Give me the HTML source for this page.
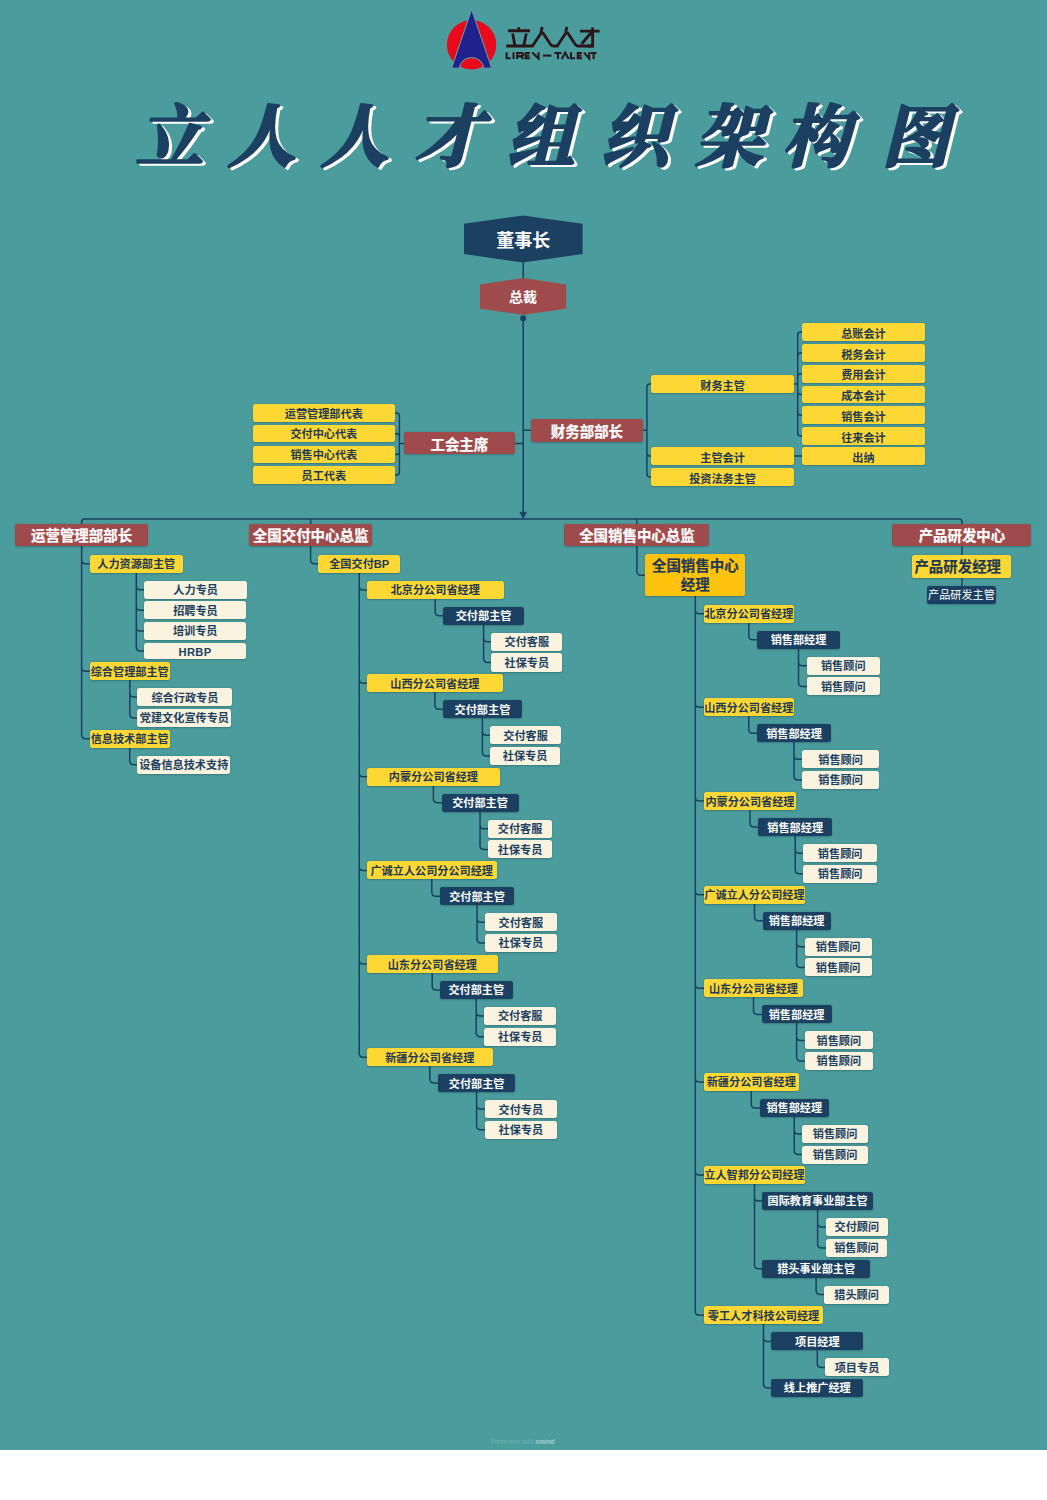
<!DOCTYPE html>
<html lang="zh-CN"><head><meta charset="utf-8"><title>立人人才组织架构图</title>
<style>
html,body{margin:0;padding:0;background:#fff;}
body{width:1047px;height:1500px;position:relative;overflow:hidden;font-family:"Liberation Sans","Noto Sans CJK SC",sans-serif;}
#bg{position:absolute;left:0;top:0;width:1047px;height:1449.5px;background:#4b9c9d;}
svg{position:absolute;left:0;top:0;overflow:visible}
.b{position:absolute;box-sizing:border-box;display:flex;align-items:center;justify-content:center;white-space:nowrap;font-weight:bold;border-radius:2.5px;box-shadow:0 .5px 1.5px rgba(20,50,60,.3);font-size:11.15px;line-height:1;letter-spacing:0;padding-top:2px;}
.y{background:#fdd835;color:#1f3a52;}
.yb{background:#fdd835;color:#1f3a52;font-size:14.45px;justify-content:flex-start;padding-left:2px;-webkit-text-stroke:.2px;}
.a{background:#ffc20e;color:#1f3a52;font-size:14.45px;line-height:19.5px;text-align:center;-webkit-text-stroke:.2px;}
.c{background:#f9f3df;color:#1b4061;}
.n{background:#1b4061;color:#fff;}
.nl{background:#1b4061;color:#fff;font-weight:normal;-webkit-text-stroke:0;}
.r{background:#9f4b4c;color:#fff;font-size:14.45px;padding-top:3.6px;-webkit-text-stroke:.25px #fff;}
.en{letter-spacing:.4px}
.lo{padding-top:4.6px}
.lo2{padding-top:2.4px}
.hex{position:absolute;display:flex;align-items:center;justify-content:center;color:#fff;font-weight:bold;}
</style></head><body>
<div id="bg"></div>
<svg style="left:436px;top:0" width="72" height="80" viewBox="436 0 72 80" role="img" aria-label="logo">
<circle cx="471.6" cy="44.8" r="24.7" fill="#e90b1b"/>
<path d="M471.6,9.4L451.6,68.2H459.6A12,10.6 0 0 1 483.6,68.2H491.7Z" fill="#21218e" stroke="#63a7a9" stroke-width="1" stroke-linejoin="miter"/>
</svg>
<svg style="left:496px;top:16px" width="116" height="54" viewBox="0 0 1047 487" fill="none" stroke="#2b1719" stroke-linecap="butt" stroke-linejoin="miter" role="img" aria-label="立人人才 LIREN-TALENT">
<g stroke-width="26">
<path d="M205,101V130M108,133H306M150,158L170,262M273,158L252,262M92,271H338"/>
<path d="M416,98L406,156L328,273M420,146L496,261Q504,271 522,271H562"/>
<path d="M639,98L629,156L551,273M643,146L719,261Q727,271 745,271H882"/>
<path d="M758,136H936M872,103V271H824M866,142L772,252"/>
</g>
<g stroke-width="18.5">
<path d="M96,328V382H132M158,328V388M191,388V334H226Q246,334 246,348Q246,362 226,362H191M222,362L246,388M306,334H268V382H306M268,358H301M327,330L384,384V328"/>
<path d="M424,357H499"/>
<path d="M527,334H591M559,334V388M594,388L625,330L656,388M677,328V382H713M776,334H738V382H776M738,358H771M795,330L841,384V328M854,334H908M881,334V388"/>
</g>
</svg>
<svg width="1047" height="200" viewBox="0 0 1047 200" role="img" aria-label="立人人才组织架构图">
<text x="138.5 230.5 323.6 417.6 509.7 603.5 698.1 785.1 884.4" y="162.7" font-family="'Liberation Serif','Noto Serif CJK SC',serif" font-size="68" font-weight="bold" font-style="italic" fill="#fff" stroke="#fff" stroke-width="2.5" stroke-linejoin="round">立人人才组织架构图</text>
<text x="135.5 227.5 320.6 414.6 506.7 600.5 695.1 782.1 881.4" y="161" font-family="'Liberation Serif','Noto Serif CJK SC',serif" font-size="68" font-weight="bold" font-style="italic" fill="#1b4061" stroke="#1b4061" stroke-width="2.5" stroke-linejoin="round">立人人才组织架构图</text>
</svg>
<svg width="1047" height="1450" viewBox="0 0 1047 1450" fill="none" stroke="#1b4061" stroke-width="1.5" stroke-linecap="round" stroke-linejoin="round">
<path d="M523.2,262V279"/>
<path d="M523.2,318V513"/>
<path d="M403.7,443.4H399.4V416.0Q399.4,413.0 396.4,413.0H394.8M403.7,443.4H399.4V436.7Q399.4,433.7 396.4,433.7H394.8M403.7,443.4H399.4V451.4Q399.4,454.4 396.4,454.4H394.8M403.7,443.4H399.4V472.1Q399.4,475.1 396.4,475.1H394.8M642.6,430.3H646.9V387.0Q646.9,384.0 649.9,384.0H651.3M642.6,430.3H646.9V453.0Q646.9,456.0 649.9,456.0H651.3M642.6,430.3H646.9V473.9Q646.9,476.9 649.9,476.9H651.3M793.8,384.0H797.7V334.9Q797.7,331.9 800.7,331.9H801.7M793.8,384.0H797.7V355.9Q797.7,352.9 800.7,352.9H801.7M793.8,384.0H797.7V376.8Q797.7,373.8 800.7,373.8H801.7M793.8,384.0H797.7V391.4Q797.7,394.4 800.7,394.4H801.7M793.8,384.0H797.7V412.1Q797.7,415.1 800.7,415.1H801.7M793.8,384.0H797.7V432.9Q797.7,435.9 800.7,435.9H801.7M793.8,456H801.7M515,443.4H523.2M523.2,430.3H531.6M81.6,523.4V522.0Q81.6,519.0 84.6,519.0H959.0Q962.0,519.0 962.0,522.0V523.4M310.6,519.0V523.4M636.9,519.0V523.4M81.6,545.9V559.8Q81.6,563.8 85.6,563.8H89.7M81.6,545.9V667.2Q81.6,671.2 85.6,671.2H89.7M81.6,545.9V734.8Q81.6,738.8 85.6,738.8H89.7M136.3,573.0V585.7Q136.3,589.7 140.3,589.7H144.3M136.3,573.0V606.3Q136.3,610.3 140.3,610.3H144.4M136.3,573.0V627.0Q136.3,631.0 140.3,631.0H144.4M136.3,573.0V647.1Q136.3,651.1 140.3,651.1H144.4M129.8,680.3V693.1Q129.8,697.1 133.8,697.1H137.4M129.8,680.3V714.0Q129.8,718.0 133.8,718.0H137.3M129.7,747.9V760.7Q129.7,764.7 133.7,764.7H137.3M310.6,545.9V559.8Q310.6,563.8 314.6,563.8H318.3M435.2,599.0V611.8Q435.2,615.8 439.2,615.8H443.0M483.6,624.9V637.8Q483.6,641.8 487.6,641.8H491.4M483.6,624.9V658.5Q483.6,662.5 487.6,662.5H491.4M434.9,692.4V705.2Q434.9,709.2 438.9,709.2H443.0M482.4,718.3V731.2Q482.4,735.2 486.4,735.2H490.1M482.4,718.3V751.9Q482.4,755.9 486.4,755.9H490.1M433.4,785.9V798.7Q433.4,802.7 437.4,802.7H441.5M480.0,811.8V824.7Q480.0,828.7 484.0,828.7H487.6M480.0,811.8V845.4Q480.0,849.4 484.0,849.4H487.6M431.8,879.5V892.3Q431.8,896.3 435.8,896.3H440.0M477.0,905.4V918.3Q477.0,922.3 481.0,922.3H484.6M477.0,905.4V939.0Q477.0,943.0 481.0,943.0H484.6M432.2,973.2V986.0Q432.2,990.0 436.2,990.0H440.0M476.2,999.1V1012.0Q476.2,1016.0 480.2,1016.0H484.4M476.2,999.1V1032.7Q476.2,1036.7 480.2,1036.7H484.4M429.8,1066.3V1079.1Q429.8,1083.1 433.8,1083.1H438.3M476.6,1092.2V1105.1Q476.6,1109.1 480.6,1109.1H484.6M476.6,1092.2V1125.8Q476.6,1129.8 480.6,1129.8H484.6M359.2,572.6V585.9Q359.2,589.9 363.2,589.9H367.0M359.2,572.6V679.3Q359.2,683.3 363.2,683.3H367.0M359.2,572.6V772.8Q359.2,776.8 363.2,776.8H367.0M359.2,572.6V866.4Q359.2,870.4 363.2,870.4H367.0M359.2,572.6V960.1Q359.2,964.1 363.2,964.1H367.0M359.2,572.6V1053.2Q359.2,1057.2 363.2,1057.2H367.0M636.9,545.9V571.3Q636.9,575.3 640.9,575.3H645.2M748.8,622.8V635.8Q748.8,639.8 752.8,639.8H756.6M798.5,648.8V661.8Q798.5,665.8 802.5,665.8H806.5M798.5,648.8V682.4Q798.5,686.4 802.5,686.4H806.5M748.8,716.3V729.2Q748.8,733.2 752.8,733.2H756.6M794.0,742.3V755.3Q794.0,759.3 798.0,759.3H802.0M794.0,742.3V775.9Q794.0,779.9 798.0,779.9H802.0M750.0,810.2V823.1Q750.0,827.1 754.0,827.1H758.0M795.2,836.2V849.2Q795.2,853.2 799.2,853.2H803.1M795.2,836.2V869.8Q795.2,873.8 799.2,873.8H803.1M754.5,903.8V916.8Q754.5,920.8 758.5,920.8H762.5M796.6,929.8V942.8Q796.6,946.8 800.6,946.8H804.5M796.6,929.8V963.4Q796.6,967.4 800.6,967.4H804.5M753.5,997.4V1010.4Q753.5,1014.4 757.5,1014.4H761.5M796.6,1023.4V1036.4Q796.6,1040.4 800.6,1040.4H804.5M796.6,1023.4V1057.0Q796.6,1061.0 800.6,1061.0H804.5M751.3,1091.0V1104.0Q751.3,1108.0 755.3,1108.0H759.5M794.2,1117.0V1130.0Q794.2,1134.0 798.2,1134.0H802.2M794.2,1117.0V1150.6Q794.2,1154.6 798.2,1154.6H802.2M754.5,1184.1V1197.0Q754.5,1201.0 758.5,1201.0H762.3M754.5,1184.1V1264.7Q754.5,1268.7 758.5,1268.7H762.3M817.6,1210.0V1223.0Q817.6,1227.0 821.6,1227.0H825.8M817.6,1210.0V1244.0Q817.6,1248.0 821.6,1248.0H825.8M816.1,1277.7V1290.5Q816.1,1294.5 820.1,1294.5H824.2M763.5,1324.4V1337.4Q763.5,1341.4 767.5,1341.4H771.2M763.5,1324.4V1384.0Q763.5,1388.0 767.5,1388.0H771.2M817.3,1350.5V1363.5Q817.3,1367.5 821.3,1367.5H825.0M695.3,596.4V609.7Q695.3,613.7 699.3,613.7H703.6M695.3,596.4V703.2Q695.3,707.2 699.3,707.2H703.6M695.3,596.4V797.1Q695.3,801.1 699.3,801.1H703.6M695.3,596.4V890.7Q695.3,894.7 699.3,894.7H703.6M695.3,596.4V984.3Q695.3,988.3 699.3,988.3H703.6M695.3,596.4V1077.9Q695.3,1081.9 699.3,1081.9H703.6M695.3,596.4V1171.0Q695.3,1175.0 699.3,1175.0H703.6M695.3,596.4V1311.3Q695.3,1315.3 699.3,1315.3H703.6M962.0,545.9V586.2"/>
<circle cx="523.2" cy="318.2" r="3" fill="#1b4061" stroke="none"/>
<path d="M520.3000000000001,512.7L523.2,518.2L526.1,512.7Z" fill="#1b4061" stroke="#1b4061" stroke-width="1"/>
<path d="M464,223.8L523.2,215.4L582.6,223.8V254L523.2,262.6L464,254Z" fill="#1b4061" stroke="none"/>
<path d="M480,284.4L523.2,278L566.2,284.4V308.8L523.2,314.8L480,308.8Z" fill="#9f4b4c" stroke="none"/>
</svg>
<div class="hex" style="left:464px;top:215.4px;width:118.6px;height:47.2px;font-size:18px">董事长</div>
<div class="hex" style="left:480px;top:278px;width:86.2px;height:36.8px;font-size:14px">总裁</div>
<div class="b y lo2" style="left:252.8px;top:404.3px;width:142.0px;height:17.4px">运营管理部代表</div>
<div class="b y lo2" style="left:252.8px;top:425.0px;width:142.0px;height:17.4px">交付中心代表</div>
<div class="b y lo2" style="left:252.8px;top:445.7px;width:142.0px;height:17.4px">销售中心代表</div>
<div class="b y lo2" style="left:252.8px;top:466.4px;width:142.0px;height:17.4px">员工代表</div>
<div class="b r" style="left:403.7px;top:432.3px;width:111.3px;height:22.2px">工会主席</div>
<div class="b r" style="left:531.3px;top:419.0px;width:111.3px;height:22.6px">财务部部长</div>
<div class="b y lo" style="left:651.3px;top:375.1px;width:142.5px;height:17.8px">财务主管</div>
<div class="b y lo" style="left:651.3px;top:447.1px;width:142.5px;height:17.8px">主管会计</div>
<div class="b y lo" style="left:651.3px;top:467.9px;width:142.5px;height:17.9px">投资法务主管</div>
<div class="b y lo" style="left:801.7px;top:323.0px;width:123.5px;height:17.9px">总账会计</div>
<div class="b y lo" style="left:801.7px;top:344.0px;width:123.5px;height:17.9px">税务会计</div>
<div class="b y lo" style="left:801.7px;top:364.8px;width:123.5px;height:17.9px">费用会计</div>
<div class="b y lo" style="left:801.7px;top:385.5px;width:123.5px;height:17.9px">成本会计</div>
<div class="b y lo" style="left:801.7px;top:406.2px;width:123.5px;height:17.9px">销售会计</div>
<div class="b y lo" style="left:801.7px;top:427.0px;width:123.5px;height:17.9px">往来会计</div>
<div class="b y lo" style="left:801.7px;top:447.1px;width:123.5px;height:17.8px">出纳</div>
<div class="b r" style="left:15.0px;top:523.8px;width:133.2px;height:22.1px">运营管理部部长</div>
<div class="b r" style="left:249.4px;top:523.8px;width:122.4px;height:22.1px">全国交付中心总监</div>
<div class="b r" style="left:564.3px;top:523.8px;width:145.2px;height:22.1px">全国销售中心总监</div>
<div class="b r" style="left:892.4px;top:523.8px;width:139.1px;height:22.1px">产品研发中心</div>
<div class="b y" style="left:89.7px;top:554.6px;width:93.2px;height:18.4px">人力资源部主管</div>
<div class="b c" style="left:144.3px;top:580.6px;width:102.7px;height:18.1px">人力专员</div>
<div class="b c" style="left:144.4px;top:601.4px;width:102.1px;height:17.9px">招聘专员</div>
<div class="b c" style="left:144.4px;top:622.1px;width:101.7px;height:17.7px">培训专员</div>
<div class="b c en" style="left:144.4px;top:642.8px;width:101.3px;height:16.7px">HRBP</div>
<div class="b y" style="left:89.7px;top:662.2px;width:80.1px;height:18.1px">综合管理部主管</div>
<div class="b c" style="left:137.4px;top:688.3px;width:95.0px;height:17.7px">综合行政专员</div>
<div class="b c" style="left:137.3px;top:709.0px;width:94.2px;height:18.0px">党建文化宣传专员</div>
<div class="b y" style="left:89.7px;top:729.8px;width:80.0px;height:18.1px">信息技术部主管</div>
<div class="b c" style="left:137.3px;top:755.7px;width:92.9px;height:18.0px">设备信息技术支持</div>
<div class="b y" style="left:318.3px;top:555.0px;width:81.9px;height:17.6px">全国交付BP</div>
<div class="b y" style="left:367.0px;top:580.8px;width:136.5px;height:18.2px">北京分公司省经理</div>
<div class="b n" style="left:443.0px;top:606.7px;width:81.2px;height:18.2px">交付部主管</div>
<div class="b c" style="left:491.4px;top:632.7px;width:70.9px;height:18.2px">交付客服</div>
<div class="b c" style="left:491.4px;top:653.4px;width:70.9px;height:18.2px">社保专员</div>
<div class="b y" style="left:367.0px;top:674.2px;width:135.8px;height:18.2px">山西分公司省经理</div>
<div class="b n" style="left:443.0px;top:700.1px;width:78.9px;height:18.2px">交付部主管</div>
<div class="b c" style="left:490.1px;top:726.1px;width:70.9px;height:18.2px">交付客服</div>
<div class="b c" style="left:490.1px;top:746.8px;width:69.9px;height:18.2px">社保专员</div>
<div class="b y" style="left:367.0px;top:767.7px;width:132.8px;height:18.2px">内蒙分公司省经理</div>
<div class="b n" style="left:441.5px;top:793.6px;width:77.0px;height:18.2px">交付部主管</div>
<div class="b c" style="left:487.6px;top:819.6px;width:64.9px;height:18.2px">交付客服</div>
<div class="b c" style="left:487.6px;top:840.3px;width:64.9px;height:18.2px">社保专员</div>
<div class="b y" style="left:367.0px;top:861.3px;width:129.5px;height:18.2px">广诚立人公司分公司经理</div>
<div class="b n" style="left:440.0px;top:887.2px;width:74.0px;height:18.2px">交付部主管</div>
<div class="b c" style="left:484.6px;top:913.2px;width:72.4px;height:18.2px">交付客服</div>
<div class="b c" style="left:484.6px;top:933.9px;width:72.4px;height:18.2px">社保专员</div>
<div class="b y" style="left:367.0px;top:955.0px;width:130.5px;height:18.2px">山东分公司省经理</div>
<div class="b n" style="left:440.0px;top:980.9px;width:72.5px;height:18.2px">交付部主管</div>
<div class="b c" style="left:484.4px;top:1006.9px;width:71.6px;height:18.2px">交付客服</div>
<div class="b c" style="left:484.4px;top:1027.6px;width:71.6px;height:18.2px">社保专员</div>
<div class="b y" style="left:367.0px;top:1048.1px;width:125.5px;height:18.2px">新疆分公司省经理</div>
<div class="b n" style="left:438.3px;top:1074.0px;width:76.7px;height:18.2px">交付部主管</div>
<div class="b c" style="left:484.6px;top:1100.0px;width:72.4px;height:18.2px">交付专员</div>
<div class="b c" style="left:484.6px;top:1120.7px;width:72.4px;height:18.2px">社保专员</div>
<div class="b a" style="left:645.2px;top:554.3px;width:100.2px;height:42.1px">全国销售中心<br>经理</div>
<div class="b y" style="left:703.6px;top:604.6px;width:90.4px;height:18.2px">北京分公司省经理</div>
<div class="b n" style="left:756.6px;top:630.7px;width:83.9px;height:18.1px">销售部经理</div>
<div class="b c" style="left:806.5px;top:656.8px;width:73.5px;height:18.0px">销售顾问</div>
<div class="b c" style="left:806.5px;top:677.4px;width:73.5px;height:18.0px">销售顾问</div>
<div class="b y" style="left:703.6px;top:698.1px;width:90.4px;height:18.2px">山西分公司省经理</div>
<div class="b n" style="left:756.6px;top:724.2px;width:74.9px;height:18.1px">销售部经理</div>
<div class="b c" style="left:802.0px;top:750.3px;width:77.2px;height:18.0px">销售顾问</div>
<div class="b c" style="left:802.0px;top:770.9px;width:77.2px;height:18.0px">销售顾问</div>
<div class="b y" style="left:703.6px;top:792.0px;width:92.7px;height:18.2px">内蒙分公司省经理</div>
<div class="b n" style="left:758.0px;top:818.1px;width:74.4px;height:18.1px">销售部经理</div>
<div class="b c" style="left:803.1px;top:844.2px;width:74.1px;height:18.0px">销售顾问</div>
<div class="b c" style="left:803.1px;top:864.8px;width:74.1px;height:18.0px">销售顾问</div>
<div class="b y" style="left:703.6px;top:885.6px;width:101.7px;height:18.2px">广诚立人分公司经理</div>
<div class="b n" style="left:762.5px;top:911.7px;width:68.2px;height:18.1px">销售部经理</div>
<div class="b c" style="left:804.5px;top:937.8px;width:67.3px;height:18.0px">销售顾问</div>
<div class="b c" style="left:804.5px;top:958.4px;width:67.3px;height:18.0px">销售顾问</div>
<div class="b y" style="left:703.6px;top:979.2px;width:99.7px;height:18.2px">山东分公司省经理</div>
<div class="b n" style="left:761.5px;top:1005.3px;width:70.2px;height:18.1px">销售部经理</div>
<div class="b c" style="left:804.5px;top:1031.4px;width:68.7px;height:18.0px">销售顾问</div>
<div class="b c" style="left:804.5px;top:1052.0px;width:68.7px;height:18.0px">销售顾问</div>
<div class="b y" style="left:703.6px;top:1072.8px;width:95.4px;height:18.2px">新疆分公司省经理</div>
<div class="b n" style="left:759.5px;top:1098.9px;width:69.5px;height:18.1px">销售部经理</div>
<div class="b c" style="left:802.2px;top:1125.0px;width:65.8px;height:18.0px">销售顾问</div>
<div class="b c" style="left:802.2px;top:1145.6px;width:65.8px;height:18.0px">销售顾问</div>
<div class="b y" style="left:703.6px;top:1165.9px;width:101.7px;height:18.2px">立人智邦分公司经理</div>
<div class="b n" style="left:762.3px;top:1191.9px;width:110.7px;height:18.1px">国际教育事业部主管</div>
<div class="b c" style="left:825.8px;top:1217.9px;width:62.0px;height:18.2px">交付顾问</div>
<div class="b c" style="left:825.8px;top:1238.9px;width:61.4px;height:18.1px">销售顾问</div>
<div class="b n" style="left:762.3px;top:1259.6px;width:107.7px;height:18.1px">猎头事业部主管</div>
<div class="b c" style="left:824.2px;top:1285.5px;width:64.8px;height:18.1px">猎头顾问</div>
<div class="b y" style="left:703.6px;top:1306.3px;width:119.9px;height:18.1px">零工人才科技公司经理</div>
<div class="b n" style="left:771.2px;top:1332.3px;width:92.2px;height:18.2px">项目经理</div>
<div class="b c" style="left:825.0px;top:1358.4px;width:64.0px;height:18.1px">项目专员</div>
<div class="b n" style="left:771.2px;top:1378.9px;width:92.2px;height:18.1px">线上推广经理</div>
<div class="b yb" style="left:912.4px;top:554.7px;width:98.4px;height:23.1px">产品研发经理</div>
<div class="b nl" style="left:927.4px;top:585.8px;width:68.2px;height:17.8px">产品研发主管</div>
<div style="position:absolute;left:490.5px;top:1437.6px;width:70px;font-size:6.5px;color:rgba(255,255,255,.22);white-space:nowrap;font-style:italic">Presented with <b style="color:rgba(255,255,255,.5)">xmind</b></div>
</body></html>
